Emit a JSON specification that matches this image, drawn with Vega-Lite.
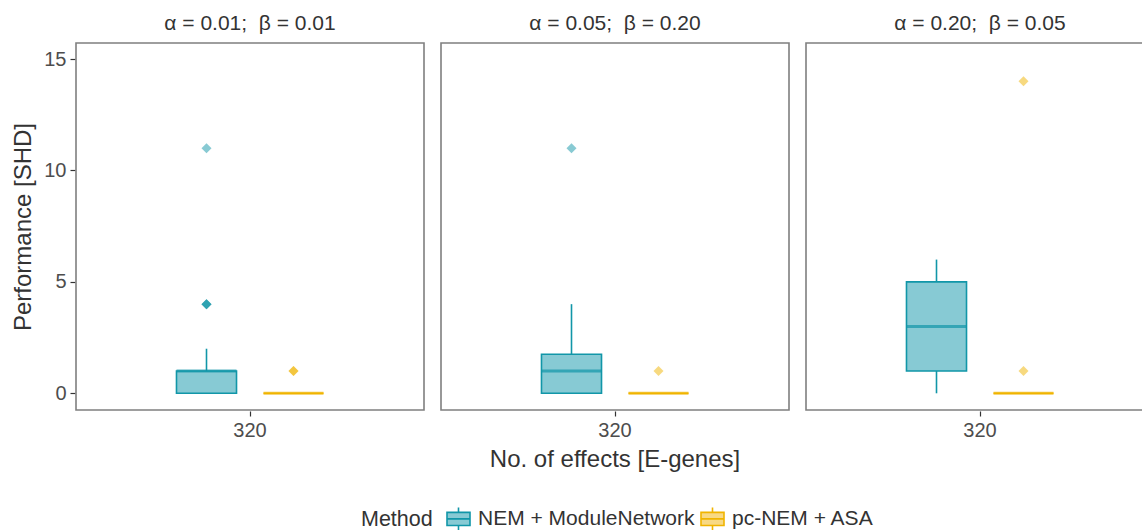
{
  "$schema": "https://vega.github.io/schema/vega-lite/v6.json",
  "background": "white",
  "padding": {"left": 11, "top": 13, "right": 0, "bottom": 0},
  "data": {
    "values": [
      {"panel": "α = 0.01;\u00a0 β = 0.01", "E": "320", "Method": "NEM + ModuleNetwork", "lower": 0, "q1": 0, "median": 1, "q3": 1, "upper": 2},
      {"panel": "α = 0.01;\u00a0 β = 0.01", "E": "320", "Method": "pc-NEM + ASA", "lower": 0, "q1": 0, "median": 0, "q3": 0, "upper": 0},
      {"panel": "α = 0.05;\u00a0 β = 0.20", "E": "320", "Method": "NEM + ModuleNetwork", "lower": 0, "q1": 0, "median": 1, "q3": 1.75, "upper": 4},
      {"panel": "α = 0.05;\u00a0 β = 0.20", "E": "320", "Method": "pc-NEM + ASA", "lower": 0, "q1": 0, "median": 0, "q3": 0, "upper": 0},
      {"panel": "α = 0.20;\u00a0 β = 0.05", "E": "320", "Method": "NEM + ModuleNetwork", "lower": 0, "q1": 1, "median": 3, "q3": 5, "upper": 6},
      {"panel": "α = 0.20;\u00a0 β = 0.05", "E": "320", "Method": "pc-NEM + ASA", "lower": 0, "q1": 0, "median": 0, "q3": 0, "upper": 0},
      {"panel": "α = 0.01;\u00a0 β = 0.01", "E": "320", "Method": "NEM + ModuleNetwork", "SHD": 4},
      {"panel": "α = 0.01;\u00a0 β = 0.01", "E": "320", "Method": "NEM + ModuleNetwork", "SHD": 4},
      {"panel": "α = 0.01;\u00a0 β = 0.01", "E": "320", "Method": "NEM + ModuleNetwork", "SHD": 4},
      {"panel": "α = 0.01;\u00a0 β = 0.01", "E": "320", "Method": "NEM + ModuleNetwork", "SHD": 11},
      {"panel": "α = 0.01;\u00a0 β = 0.01", "E": "320", "Method": "pc-NEM + ASA", "SHD": 1},
      {"panel": "α = 0.01;\u00a0 β = 0.01", "E": "320", "Method": "pc-NEM + ASA", "SHD": 1},
      {"panel": "α = 0.05;\u00a0 β = 0.20", "E": "320", "Method": "NEM + ModuleNetwork", "SHD": 11},
      {"panel": "α = 0.05;\u00a0 β = 0.20", "E": "320", "Method": "pc-NEM + ASA", "SHD": 1},
      {"panel": "α = 0.20;\u00a0 β = 0.05", "E": "320", "Method": "pc-NEM + ASA", "SHD": 1},
      {"panel": "α = 0.20;\u00a0 β = 0.05", "E": "320", "Method": "pc-NEM + ASA", "SHD": 14}
    ]
  },
  "facet": {
    "column": {
      "field": "panel",
      "type": "nominal",
      "sort": ["α = 0.01;\u00a0 β = 0.01", "α = 0.05;\u00a0 β = 0.20", "α = 0.20;\u00a0 β = 0.05"],
      "title": "No. of effects [E-genes]",
      "header": {
        "titleOrient": "bottom",
        "labelOrient": "top",
        "labelFontSize": 21,
        "labelColor": "#333333",
        "labelFont": "Liberation Sans",
        "labelPadding": 8,
        "titleFontSize": 24,
        "titleColor": "#333333",
        "titleFont": "Liberation Sans",
        "titleFontWeight": "normal",
        "titlePadding": -2
      }
    }
  },
  "spacing": 15,
  "spec": {
    "width": 348,
    "height": 367,
    "encoding": {
      "x": {
        "field": "E",
        "type": "nominal",
        "title": null,
        "scale": {"paddingOuter": 0.5, "paddingInner": 0},
        "axis": {"labelAngle": 0, "domain": false, "ticks": true, "tickSize": 5, "tickColor": "#333333", "tickWidth": 1.2, "labelFontSize": 20, "labelColor": "#4D4D4D", "labelFont": "Liberation Sans", "labelPadding": 4}
      },
      "xOffset": {
        "field": "Method",
        "type": "nominal",
        "scale": {"paddingInner": 0.31, "paddingOuter": 0.155}
      }
    },
    "layer": [
      {
        "transform": [{"filter": "isValid(datum.q1)"}],
        "mark": {"type": "rule", "strokeWidth": 1.6},
        "encoding": {
          "y": {"field": "lower", "type": "quantitative"},
          "y2": {"field": "upper"},
          "stroke": {"condition": {"test": "datum.Method == 'pc-NEM + ASA'", "value": "#F0B400"}, "value": "#1196A8"}
        }
      },
      {
        "transform": [{"filter": "isValid(datum.q1)"}],
        "mark": {"type": "bar", "strokeWidth": 1.6},
        "encoding": {
          "y": {
            "field": "q1",
            "type": "quantitative",
            "title": "Performance [SHD]",
            "scale": {"domain": [-0.75, 15.72], "nice": false, "zero": false},
            "axis": {"values": [0, 5, 10, 15], "grid": false, "domain": false, "tickSize": 5, "tickColor": "#333333", "tickWidth": 1.2, "labelFontSize": 20, "labelColor": "#4D4D4D", "labelFont": "Liberation Sans", "labelPadding": 4, "titleFontSize": 24, "titleColor": "#333333", "titleFont": "Liberation Sans", "titleFontWeight": "normal", "titlePadding": 8}
          },
          "y2": {"field": "q3"},
          "fill": {
            "field": "Method",
            "type": "nominal",
            "scale": {"domain": ["NEM + ModuleNetwork", "pc-NEM + ASA"], "range": ["#87CAD4", "#F8D985"]},
            "legend": {
              "title": "Method",
              "orient": "none",
              "legendX": 285,
              "legendY": 463,
              "direction": "horizontal",
              "titleOrient": "left",
              "titleFontSize": 21.5,
              "titleColor": "#333333",
              "titleFont": "Liberation Sans",
              "titleFontWeight": "normal",
              "titlePadding": 13,
              "titleBaseline": "middle",
              "labelFontSize": 21,
              "labelColor": "#333333",
              "labelFont": "Liberation Sans",
              "labelLimit": 500,
              "symbolType": "M-1,-0.57H1V0.57H-1ZM-1,0H1M0,-0.57V-1M0,0.57V1",
              "symbolSize": 529,
              "symbolStrokeWidth": 1.6,
              "columnPadding": 2,
              "labelOffset": 7
            }
          },
          "stroke": {"field": "Method", "type": "nominal", "scale": {"domain": ["NEM + ModuleNetwork", "pc-NEM + ASA"], "range": ["#1196A8", "#F0B400"]}}
        }
      },
      {
        "transform": [{"filter": "isValid(datum.q1)"}],
        "mark": {"type": "tick", "thickness": 3, "size": 60},
        "encoding": {
          "y": {"field": "median", "type": "quantitative"},
          "color": {"condition": {"test": "datum.Method == 'pc-NEM + ASA'", "value": "#F0B400"}, "value": "#1196A8"}
        }
      },
      {
        "transform": [{"filter": "isValid(datum.SHD)"}],
        "mark": {"type": "point", "shape": "diamond", "filled": true, "size": 100, "opacity": 0.5, "strokeWidth": 0},
        "encoding": {
          "y": {"field": "SHD", "type": "quantitative"},
          "color": {"condition": {"test": "datum.Method == 'pc-NEM + ASA'", "value": "#F0B400"}, "value": "#1196A8"}
        }
      }
    ]
  },
  "config": {
    "view": {"stroke": "#7F7F7F", "strokeWidth": 1.6},
    "font": "Liberation Sans"
  }
}
